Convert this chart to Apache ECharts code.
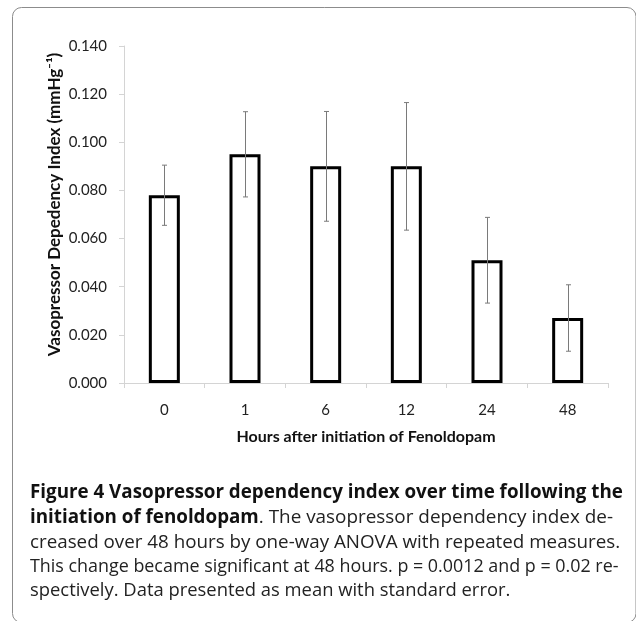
<!DOCTYPE html>
<html>
<head>
<meta charset="utf-8">
<script src="https://cdn.jsdelivr.net/npm/echarts@6/dist/echarts.min.js"></script>
<style>
html,body{margin:0;padding:0;background:#fff;}
#chart{width:636px;height:621px;}
</style>
</head>
<body>
<div id="chart"></div>
<script>
const categories = ['0', '1', '6', '12', '24', '48'];
const meanValues = [0.078, 0.095, 0.090, 0.090, 0.051, 0.027];
const stdErrors = [0.0125, 0.0177, 0.0228, 0.0265, 0.0178, 0.0138];
const yTickMin = 0, yTickMax = 0.14, yTickStep = 0.02;

const chart = echarts.init(document.getElementById('chart'), null, {renderer: 'canvas'});

const errorData = categories.map((c, i) => [i, meanValues[i] - stdErrors[i], meanValues[i] + stdErrors[i]]);

const capFont = '"Open Sans", sans-serif';

function capLine(y, style) {
  return {type: 'text', x: 30, y: y, style: Object.assign({verticalAlign: 'middle', align: 'left'}, style)};
}
function bold(s) { return 'bold ' + s + 'px ' + capFont; }
function norm(s) { return s + 'px ' + capFont; }

const option = {
  backgroundColor: '#ffffff',
  animation: false,
  grid: {left: 124, right: 28, top: 46, bottom: 238, containLabel: false},
  xAxis: {
    type: 'category',
    data: categories,
    boundaryGap: true,
    axisLine: {show: true, lineStyle: {color: '#d4d4d4', width: 1}},
    axisTick: {show: true, alignWithLabel: false, length: 5, lineStyle: {color: '#d4d4d4'}},
    axisLabel: {color: '#222', fontFamily: 'Lato', fontSize: 15, margin: 20},
    name: 'Hours after initiation of Fenoldopam',
    nameLocation: 'middle',
    nameGap: 46,
    nameTextStyle: {color: '#111', fontFamily: 'Lato', fontWeight: 'bold', fontSize: 16}
  },
  yAxis: {
    type: 'value',
    min: yTickMin,
    max: yTickMax,
    interval: yTickStep,
    axisLine: {show: true, lineStyle: {color: '#d4d4d4', width: 1}},
    axisTick: {show: true, length: 5, lineStyle: {color: '#d4d4d4'}},
    splitLine: {show: false},
    axisLabel: {color: '#222', fontFamily: 'Lato', fontSize: 15, margin: 17,
      formatter: v => v.toFixed(3)},
    name: 'Vasopressor Depedency Index (mmHg\u207B\u00B9)',
    nameLocation: 'middle',
    nameRotate: 90,
    nameGap: 61,
    nameMoveOverlap: false,
    nameTextStyle: {color: '#111', fontFamily: 'Lato', fontWeight: 'bold', fontSize: 17, padding: [0, 0, 0, 20]}
  },
  series: [
    {
      type: 'bar',
      data: meanValues,
      barWidth: 31,
      itemStyle: {color: '#ffffff', borderColor: '#000000', borderWidth: 3},
      silent: true
    },
    {
      type: 'custom',
      data: errorData,
      z: 5,
      renderItem: function (params, api) {
        const x = api.value(0);
        const lo = api.coord([x, api.value(1)]);
        const hi = api.coord([x, api.value(2)]);
        const cx = Math.round(lo[0]) + 0.5;
        const cap = 2.5;
        const st = {stroke: '#7a7a7a', lineWidth: 1};
        return {
          type: 'group',
          children: [
            {type: 'line', shape: {x1: cx, y1: hi[1], x2: cx, y2: lo[1]}, style: st},
            {type: 'line', shape: {x1: cx - cap, y1: hi[1], x2: cx + cap, y2: hi[1]}, style: st},
            {type: 'line', shape: {x1: cx - cap, y1: lo[1], x2: cx + cap, y2: lo[1]}, style: st}
          ]
        };
      }
    }
  ],
  graphic: [
    {type: 'rect', shape: {x: 12.5, y: 7.5, width: 623.5, height: 615, r: 9},
      style: {fill: 'none', stroke: '#8c8c8c', lineWidth: 1}, silent: true},
    capLine(493, {text: 'Figure 4 Vasopressor dependency index over time following the',
      font: bold(18.8), fill: '#111'}),
    capLine(518, {text: '{b|initiation of fenoldopam}{n|. The vasopressor dependency index de-}',
      rich: {b: {font: bold(18.8), fill: '#111'}, n: {font: norm(18.9), fill: '#222'}}}),
    capLine(543, {text: 'creased over 48 hours by one-way ANOVA with repeated measures.',
      font: norm(18.8), fill: '#222'}),
    capLine(567, {text: 'This change became significant at 48 hours. p = 0.0012 and p = 0.02 re-',
      font: norm(17.9), fill: '#222'}),
    capLine(591, {text: 'spectively. Data presented as mean with standard error.',
      font: norm(18.4), fill: '#222'})
  ]
};
chart.setOption(option);
</script>
</body>
</html>
